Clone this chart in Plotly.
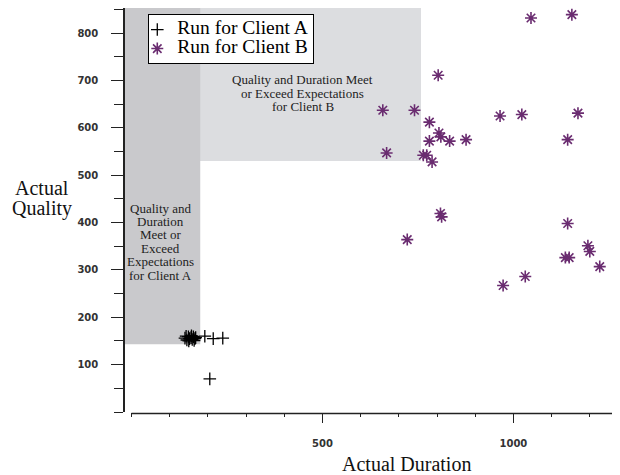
import plotly.graph_objects as go

# ---- data ----
a_duration = [140, 145, 149, 152, 156, 159, 162, 166, 168, 143, 150, 157, 164, 192, 214, 239, 205]
a_quality = [156, 152, 159, 155, 157, 153, 159, 155, 157, 160, 150, 161, 151, 160, 155, 156, 70]

b_duration = [1046, 1153, 803, 658, 741, 780, 965, 1022, 1169, 805, 810, 780, 833, 876,
              1142, 668, 764, 773, 787, 809, 812, 722, 1142, 1195, 1200, 1136, 1146,
              1226, 1031, 973]
b_quality = [832, 839, 711, 637, 637, 612, 625, 628, 631, 589, 581, 572, 572, 575,
             575, 547, 542, 542, 528, 419, 412, 364, 398, 351, 339, 326, 326,
             307, 286, 267]

x_tick_vals = [500, 1000]
x_tick_text = ["500", "1000"]
y_tick_vals = [100, 200, 300, 400, 500, 600, 700, 800]
y_tick_text = ["100", "200", "300", "400", "500", "600", "700", "800"]

series_names = ["Run for Client A", "Run for Client B"]

region_a = dict(x0=-17, x1=180, y0=143, y1=853)
region_b = dict(x0=0, x1=758, y0=530, y1=853)

note_b_lines = ["Quality and Duration Meet", "or Exceed Expectations", "for Client B"]
note_a_lines = ["Quality and", "Duration", "Meet or", "Exceed", "Expectations", "for Client A"]

X_RANGE = [-17, 1300]
Y_RANGE = [0, 853]

PURPLE = "#6a2c70"
SERIF = "Liberation Serif"


def big(t):
    return "<span style='font-size:19.5px'>" + t + "</span>"


fig = go.Figure()

fig.add_trace(go.Scatter(
    x=a_duration, y=a_quality, mode="markers", name=big(series_names[0]),
    marker=dict(symbol="cross-thin", size=9, color="black",
                line=dict(color="black", width=1.3)),
))
fig.add_trace(go.Scatter(
    x=b_duration, y=b_quality, mode="markers", name=big(series_names[1]),
    marker=dict(symbol="asterisk", size=10, color=PURPLE,
                line=dict(color=PURPLE, width=1.6)),
))

# shaded regions
fig.add_shape(type="rect", xref="x", yref="y", layer="below", line_width=0,
              fillcolor="#dcdde0", **region_b)
fig.add_shape(type="rect", xref="x", yref="y", layer="below", line_width=0,
              fillcolor="#c9c9cc", **region_a)

# x axis spine starting at 0 (offset from the y axis)
fig.add_shape(type="line", xref="x", yref="paper", x0=0, x1=X_RANGE[1],
              y0=-0.004, y1=-0.004, line=dict(color="#222", width=1.5))

ann = []
note_font = dict(family=SERIF, size=13, color="#222")
for i, t in enumerate(note_b_lines):
    ann.append(dict(x=448, y=701.4 - i * 28.2, xref="x", yref="y", text=t,
                    xanchor="center", yanchor="middle", showarrow=False, font=note_font))
for i, t in enumerate(note_a_lines):
    ann.append(dict(x=77, y=430.5 - i * 28.3, xref="x", yref="y", text=t,
                    xanchor="center", yanchor="middle", showarrow=False, font=note_font))

title_font = dict(family=SERIF, size=20, color="#111")
ann.append(dict(x=0.5606, y=-0.1287, xref="paper", yref="paper", text="Actual Duration",
                xanchor="center", yanchor="middle", showarrow=False, font=title_font))
ann.append(dict(x=-0.1656, y=0.5545, xref="paper", yref="paper", text="Actual",
                xanchor="center", yanchor="middle", showarrow=False, font=title_font))
ann.append(dict(x=-0.1656, y=0.5025, xref="paper", yref="paper", text="Quality",
                xanchor="center", yanchor="middle", showarrow=False, font=title_font))

tickfont = dict(family="DejaVu Sans", size=10, color="#333", weight="bold")

fig.update_layout(
    width=620, height=475,
    margin=dict(l=117, r=0, t=0, b=71),
    paper_bgcolor="white", plot_bgcolor="white",
    annotations=ann,
    showlegend=True,
    legend=dict(x=0.0463, y=0.985, xanchor="left", yanchor="top",
                bgcolor="white", bordercolor="black", borderwidth=1,
                font=dict(family=SERIF, size=12, color="black"),
                itemwidth=30, indentation=-12, tracegroupgap=0),
    xaxis=dict(range=X_RANGE, showgrid=False, zeroline=False, showline=False,
               tickmode="array", tickvals=x_tick_vals, ticktext=x_tick_text,
               ticks="outside", ticklen=10, tickwidth=1.3, tickcolor="#222",
               ticklabelstandoff=12, tickfont=tickfont,
               minor=dict(tick0=0, dtick=100, ticks="outside", ticklen=4,
                          tickwidth=1.2, tickcolor="#222", showgrid=False)),
    yaxis=dict(range=Y_RANGE, showgrid=False, zeroline=False, showline=True,
               linecolor="#222", linewidth=1.5,
               tickmode="array", tickvals=y_tick_vals, ticktext=y_tick_text,
               ticks="outside", ticklen=12, tickwidth=1.3, tickcolor="#222",
               ticklabelstandoff=11, tickfont=tickfont,
               minor=dict(tick0=0, dtick=50, ticks="outside", ticklen=9,
                          tickwidth=1.2, tickcolor="#222", showgrid=False)),
)

fig.write_html("out.html")
